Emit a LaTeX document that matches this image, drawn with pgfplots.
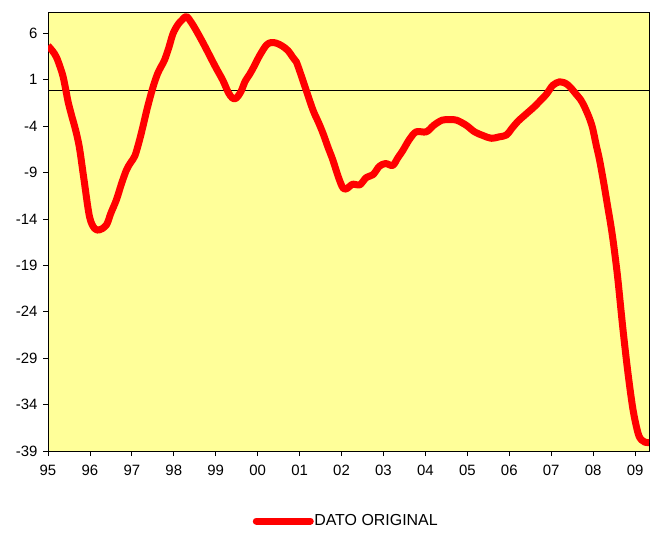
\documentclass[border=0pt]{standalone}
\usepackage{fontspec}
\setmainfont{Liberation Sans}
\usepackage{pgfplots}
\pgfplotsset{compat=1.18}
\definecolor{bgyellow}{RGB}{255,255,153}
\begin{document}
\begin{tikzpicture}
\begin{axis}[
  at={(0,0)}, anchor=south west,
  scale only axis, width=601bp, height=439bp,
  xmin=1995, xmax=2009.33, ymin=-38.8, ymax=8.5,
  axis background/.style={fill=bgyellow},
  axis line style={black, line width=0.9bp},
  xtick={1995,...,2009},
  xticklabels={95,96,97,98,99,00,01,02,03,04,05,06,07,08,09},
  ytick={-38.8,-33.8,-28.8,-23.8,-18.8,-13.8,-8.8,-3.8,1.2,6.2},
  yticklabels={-39,-34,-29,-24,-19,-14,-9,-4,1,6},
  tick align=outside, tick pos=left,
  major tick length=5bp,
  tick style={black, line width=0.8bp},
  /pgf/number format/assume math mode=true,
  ticklabel style={font=\fontsize{15}{17}\selectfont},
  xticklabel style={yshift=-6bp},
  yticklabel style={xshift=-2bp},
  clip=true,
  legend style={at={(0.495,-0.1595)}, anchor=center, draw=none, fill=none,
    font=\fontsize{16}{18}\selectfont, inner sep=0pt, nodes={inner xsep=0.5bp}},
  legend cell align=left,
  legend image code/.code={\draw[#1, line cap=round] (0bp,0bp) -- (54bp,0bp);},
]
\addplot[black, line width=0.8bp, forget plot] coordinates {(1995,0) (2009.33,0)};
\addplot[red, line width=7bp, line join=round, smooth, tension=0.55] coordinates {
(1995.00,4.85) (1995.10,4.35) (1995.20,3.64) (1995.30,2.43) (1995.36,1.53)
(1995.42,0.22) (1995.48,-1.19) (1995.56,-2.60) (1995.64,-3.90) (1995.70,-5.01)
(1995.76,-6.42) (1995.87,-9.94) (1995.99,-13.56) (1996.11,-14.82) (1996.23,-14.97)
(1996.39,-14.47) (1996.50,-13.16) (1996.63,-11.75) (1996.75,-10.04) (1996.87,-8.53)
(1996.97,-7.73) (1997.07,-7.02) (1997.17,-5.51) (1997.26,-3.90) (1997.36,-1.99)
(1997.46,-0.28) (1997.54,0.93) (1997.62,1.93) (1997.70,2.64) (1997.78,3.34)
(1997.88,4.65) (1997.98,6.16) (1998.10,7.16) (1998.20,7.66) (1998.30,8.02)
(1998.42,7.36) (1998.54,6.46) (1998.70,5.15) (1998.85,3.84) (1999.00,2.53)
(1999.17,1.13) (1999.30,-0.18) (1999.40,-0.78) (1999.49,-0.78) (1999.60,-0.08)
(1999.70,1.03) (1999.80,1.73) (1999.90,2.53) (2000.05,3.84) (2000.21,4.95)
(2000.32,5.20) (2000.44,5.15) (2000.58,4.85) (2000.72,4.35) (2000.85,3.54)
(2000.92,3.14) (2001.04,1.63) (2001.16,0.02) (2001.32,-2.09) (2001.45,-3.40)
(2001.56,-4.61) (2001.68,-6.12) (2001.79,-7.42) (2001.92,-9.23) (2002.03,-10.44)
(2002.12,-10.54) (2002.27,-10.04) (2002.43,-10.14) (2002.59,-9.33) (2002.75,-9.03)
(2002.90,-8.13) (2003.05,-7.83) (2003.22,-8.03) (2003.34,-7.22) (2003.46,-6.42)
(2003.62,-5.21) (2003.78,-4.41) (2004.02,-4.41) (2004.20,-3.70) (2004.40,-3.15)
(2004.58,-3.10) (2004.74,-3.15) (2004.97,-3.70) (2005.17,-4.41) (2005.37,-4.81)
(2005.57,-5.11) (2005.75,-4.96) (2005.93,-4.76) (2006.05,-4.10) (2006.20,-3.30)
(2006.40,-2.49) (2006.60,-1.69) (2006.75,-0.99) (2006.88,-0.38) (2007.04,0.62)
(2007.20,0.98) (2007.30,0.90) (2007.40,0.63) (2007.50,0.15) (2007.60,-0.40)
(2007.70,-0.95) (2007.78,-1.60) (2007.86,-2.40) (2007.93,-3.20) (2007.99,-4.10)
(2008.07,-5.81) (2008.15,-7.42) (2008.25,-9.90) (2008.35,-12.60) (2008.41,-14.20)
(2008.47,-16.00) (2008.53,-18.10) (2008.59,-20.40)
(2008.71,-25.73) (2008.83,-30.46) (2008.95,-34.38) (2009.07,-36.90) (2009.15,-37.60)
(2009.23,-37.85) (2009.33,-37.90)
};
\addlegendentry{DATO ORIGINAL}
\end{axis}
\path (-48bp,-87bp) rectangle (613bp,451bp);
\end{tikzpicture}
\end{document}
